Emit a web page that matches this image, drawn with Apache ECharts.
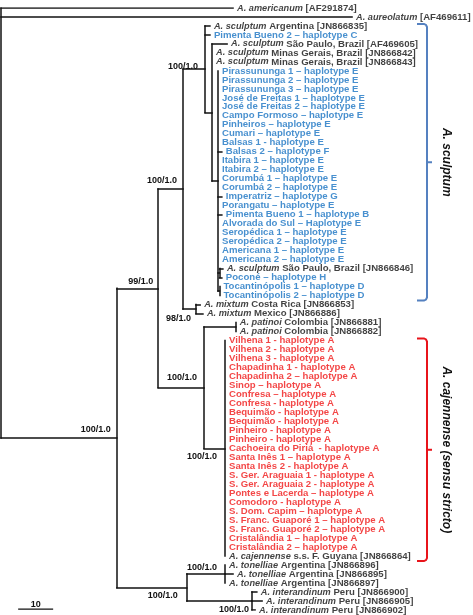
<!DOCTYPE html>
<html><head><meta charset="utf-8">
<script src="https://cdn.jsdelivr.net/npm/echarts@6/dist/echarts.min.js"></script>
<style>html,body{margin:0;padding:0;background:#fff}#c{width:473px;height:615px}</style>
</head><body><div id="c"></div>
<script>
// ---------- DATA ----------
// internal nodes of the tree (depth = distance from root, in substitutions scale units)
const nodeNames   = ['root','I','A','C','S','S2','S3','SPP','TOC','M','D','P','K','B','T','N'];
const nodeParent  = [null,'root','I','A','C','S','S2','S3','S3','C','A','D','D','I','B','B'];
const nodeDepth   = [0,33.1,44.9,52.0,58.3,60.3,62.0,62.4,62.4,55.7,58.0,67.1,64.0,53.1,64.0,71.7];
const nodeSupport = ['','100/1.0','99/1.0','100/1.0','100/1.0','','','','','98/1.0','100/1.0','','100/1.0','100/1.0','100/1.0','100/1.0'];

// leaves, top to bottom
const leafSpecies = ['A. americanum','A. aureolatum','A. sculptum','','A. sculptum','A. sculptum','A. sculptum',
  '','','','','','','','','','','','','','','','','','','','','','',
  'A. sculptum','','','','A. mixtum','A. mixtum','A. patinoi','A. patinoi',
  '','','','','','','','','','','','','','','','','','','','','','','','',
  'A. cajennense','A. tonelliae','A. tonelliae','A. tonelliae','A. interandinum','A. interandinum','A. interandinum'];
const leafRest = [' [AF291874]',' [AF469611]',' Argentina [JN866835]','Pimenta Bueno 2 – haplotype C',
  ' São Paulo, Brazil [AF469605]',' Minas Gerais, Brazil [JN866842]',' Minas Gerais, Brazil [JN866843]',
  'Pirassununga 1 – haplotype E','Pirassununga 2 – haplotype E','Pirassununga 3 – haplotype E',
  'José de Freitas 1 – haplotype E','José de Freitas 2 – haplotype E','Campo Formoso – haplotype E',
  'Pinheiros – haplotype E','Cumari – haplotype E','Balsas 1 - haplotype E','Balsas 2 – haplotype F',
  'Itabira 1 – haplotype E','Itabira 2 – haplotype E','Corumbá 1 – haplotype E','Corumbá 2 – haplotype E',
  'Imperatriz – haplotype G','Porangatu – haplotype E','Pimenta Bueno 1 – haplotype B',
  'Alvorada do Sul – Haplotype E','Seropédica 1 – haplotype E','Seropédica 2 – haplotype E',
  'Americana 1 – haplotype E','Americana 2 – haplotype E',' São Paulo, Brazil [JN866846]',
  'Poconé – haplotype H','Tocantinópolis 1 – haplotype D','Tocantinópolis 2 – haplotype D',
  ' Costa Rica [JN866853]',' Mexico [JN866886]',' Colombia [JN866881]',' Colombia [JN866882]',
  'Vilhena 1 - haplotype A','Vilhena 2 - haplotype A','Vilhena 3 - haplotype A','Chapadinha 1 - haplotype A',
  'Chapadinha 2 – haplotype A','Sinop – haplotype A','Confresa – haplotype A','Confresa - haplotype A',
  'Bequimão - haplotype A','Bequimão - haplotype A','Pinheiro - haplotype A','Pinheiro - haplotype A',
  'Cachoeira do Piriá  - haplotype A','Santa Inês 1 – haplotype A','Santa Inês 2 - haplotype A',
  'S. Ger. Araguaia 1 - haplotype A','S. Ger. Araguaia 2 - haplotype A','Pontes e Lacerda – haplotype A',
  'Comodoro - haplotype A','S. Dom. Capim – haplotype A','S. Franc. Guaporé 1 – haplotype A',
  'S. Franc. Guaporé 2 – haplotype A','Cristalândia 1 – haplotype A','Cristalândia 2 – haplotype A',
  ' s.s. F. Guyana [JN866864]',' Argentina [JN866896]',' Argentina [JN866895]',' Argentina [JN866897]',
  ' Peru [JN866900]',' Peru [JN866905]',' Peru [JN866902]'];
const leafParent = ['root','root','S','S','S2','S2','S2',
  'S3','S3','S3','S3','S3','S3','S3','S3','S3','S3','S3','S3','S3','S3','S3','S3','S3','S3','S3','S3','S3','S3',
  'SPP','SPP','TOC','TOC','M','M','P','P',
  'K','K','K','K','K','K','K','K','K','K','K','K','K','K','K','K','K','K','K','K','K','K','K','K',
  'K','T','T','T','N','N','N'];
const leafDepth = [66.3,100.3,59.7,59.7,64.6,60.3,60.3,
  62.0,62.0,62.0,62.0,62.0,62.0,62.0,62.0,62.0,63.1,62.0,62.0,62.0,62.0,63.1,62.0,63.1,62.0,62.0,62.0,62.0,62.0,
  63.4,63.1,62.4,62.4,56.9,57.7,67.1,67.1,
  64,64,64,64,64,64,64,64,64,64,64,64,64,64,64,64,64,64,64,64,64,64,64,64,
  64,64,66.3,64,73.1,74.6,72.6];
const leafGroup = ['k','k','k','b','k','k','k',
  'b','b','b','b','b','b','b','b','b','b','b','b','b','b','b','b','b','b','b','b','b','b',
  'k','b','b','b','k','k','k','k',
  'r','r','r','r','r','r','r','r','r','r','r','r','r','r','r','r','r','r','r','r','r','r','r','r',
  'k','k','k','k','k','k','k'];

// clade brackets
const cladeNames = ['A. sculptum','A. cajennense (sensu stricto)'];
const cladeFirstLeaf = [2, 37];
const cladeLastLeaf  = [32, 61];
const cladeGroup = ['b','r'];

// scale bar
const scaleBarLength = 10;
const scaleBarLabel = '10';

// ---------- STYLE ----------
const FONT = '"Liberation Sans", Arial, sans-serif';
const TEXT_COLORS = {k:'#111111', b:'#1a74c3', r:'#f01818'};
const BRACKET_COLORS = {b:'#5581c0', r:'#e8141b'};
const SPECIES_FS = 9.2;
const LABEL_FS = 9.6;
// support label offsets [dx, dy] in px relative to node
const supportOffset = {I:[-6,-8], A:[-5,-7], C:[-6,-9], S:[-7,-3], M:[-5,10], D:[-7,-10], K:[-8,8], B:[-9,8], T:[-8,-7], N:[-3,9]};

// ---------- TREE LAYOUT ----------
const depthOf = {};
nodeNames.forEach((n,i)=>depthOf[n]=nodeDepth[i]);
const nodeInfo = {};
function layout(name){
  if (nodeInfo[name]) return nodeInfo[name];
  const ys = [];
  leafParent.forEach((p,i)=>{ if(p===name) ys.push(i); });
  nodeNames.forEach((n,j)=>{ if(nodeParent[j]===name) ys.push(layout(n).y); });
  const lo = Math.min(...ys), hi = Math.max(...ys);
  nodeInfo[name] = {y:(lo+hi)/2, lo, hi};
  return nodeInfo[name];
}
layout('root');

const segments = [];
nodeNames.forEach((n,j)=>{
  const info = nodeInfo[n];
  segments.push([[nodeDepth[j], info.lo],[nodeDepth[j], info.hi]]);
  if (nodeParent[j]) segments.push([[depthOf[nodeParent[j]], info.y],[nodeDepth[j], info.y]]);
});
leafParent.forEach((p,i)=>{
  if (leafDepth[i] > depthOf[p] + 0.01) segments.push([[depthOf[p], i],[leafDepth[i], i]]);
});

const leafData = leafSpecies.map((sp,i)=>{
  const c = TEXT_COLORS[leafGroup[i]];
  const txt = (sp ? '{i|'+sp+'}' : '') + '{n|'+leafRest[i]+'}';
  return {
    value:[leafDepth[i], i],
    label:{ formatter: txt,
      rich:{ i:{fontStyle:'italic', fontWeight:'bold', color:c, fontSize:SPECIES_FS, fontFamily:FONT},
             n:{fontWeight:'bold', color:c, fontSize:LABEL_FS, fontFamily:FONT} } }
  };
});

const supportNodes = nodeNames.map((n,j)=>j).filter(j=>nodeSupport[j]);

const chart = echarts.init(document.getElementById('c'));
chart.setOption({
  animation:false,
  backgroundColor:'#fff',
  grid:{left:1, top:8, width:455, height:602},
  xAxis:{type:'value', min:0, max:130, show:false},
  yAxis:{type:'value', min:0, max:67, inverse:true, show:false},
  series:[
    { type:'lines', coordinateSystem:'cartesian2d', silent:true,
      lineStyle:{color:'#111', width:1.5, opacity:1, cap:'square'},
      data: segments.map(s=>({coords:s})) },
    { type:'scatter', symbolSize:0, silent:true,
      label:{show:true, position:'right', distance:4, verticalAlign:'middle'},
      data: leafData },
    { type:'custom', coordinateSystem:'cartesian2d', silent:true,
      data: supportNodes.map(j=>[nodeDepth[j], nodeInfo[nodeNames[j]].y]),
      renderItem:(params, api)=>{
        const j = supportNodes[params.dataIndex];
        const pt = api.coord([api.value(0), api.value(1)]);
        const off = supportOffset[nodeNames[j]];
        return {type:'text', x:pt[0]+off[0], y:pt[1]+off[1],
          style:{text:nodeSupport[j], fill:'#111', font:'bold 9px '+FONT, align:'right', verticalAlign:'middle'}};
      } },
    { type:'custom', coordinateSystem:'cartesian2d', silent:true,
      data: cladeNames.map((_,k)=>[0, cladeFirstLeaf[k]]),
      renderItem:(params, api)=>{
        const k = params.dataIndex;
        const yT = api.coord([0, cladeFirstLeaf[k]])[1] - 2;
        const yB = api.coord([0, cladeLastLeaf[k]])[1] + 5;
        const ym = (yT+yB)/2;
        const x0 = 417, x1 = 427, r = 3;
        const col = BRACKET_COLORS[cladeGroup[k]];
        return {type:'group', children:[
          {type:'polyline', shape:{points:[[x0,yT],[x1-r,yT],[x1-1,yT+1],[x1,yT+r],[x1,yB-r],[x1-1,yB-1],[x1-r,yB],[x0,yB]]},
            style:{stroke:col, lineWidth:2, fill:null}},
          {type:'line', shape:{x1:x1, y1:ym, x2:x1+5, y2:ym}, style:{stroke:col, lineWidth:2}},
          {type:'text', x:446, y:ym, rotation:-Math.PI/2,
            style:{text:cladeNames[k], fill:'#111', font:'italic bold 12px '+FONT, align:'center', verticalAlign:'middle'}}
        ]};
      } },
    { type:'custom', coordinateSystem:'cartesian2d', silent:true,
      data:[[4.9, 66.9]],
      renderItem:(params, api)=>{
        const p0 = api.coord([api.value(0), api.value(1)]);
        const p1 = api.coord([api.value(0)+scaleBarLength, api.value(1)]);
        return {type:'group', children:[
          {type:'line', shape:{x1:p0[0], y1:p0[1], x2:p1[0], y2:p1[1]}, style:{stroke:'#111', lineWidth:1.3}},
          {type:'text', x:(p0[0]+p1[0])/2, y:p0[1]-5,
            style:{text:scaleBarLabel, fill:'#111', font:'bold 9px '+FONT, align:'center', verticalAlign:'middle'}}
        ]};
      } }
  ]
});
</script></body></html>
